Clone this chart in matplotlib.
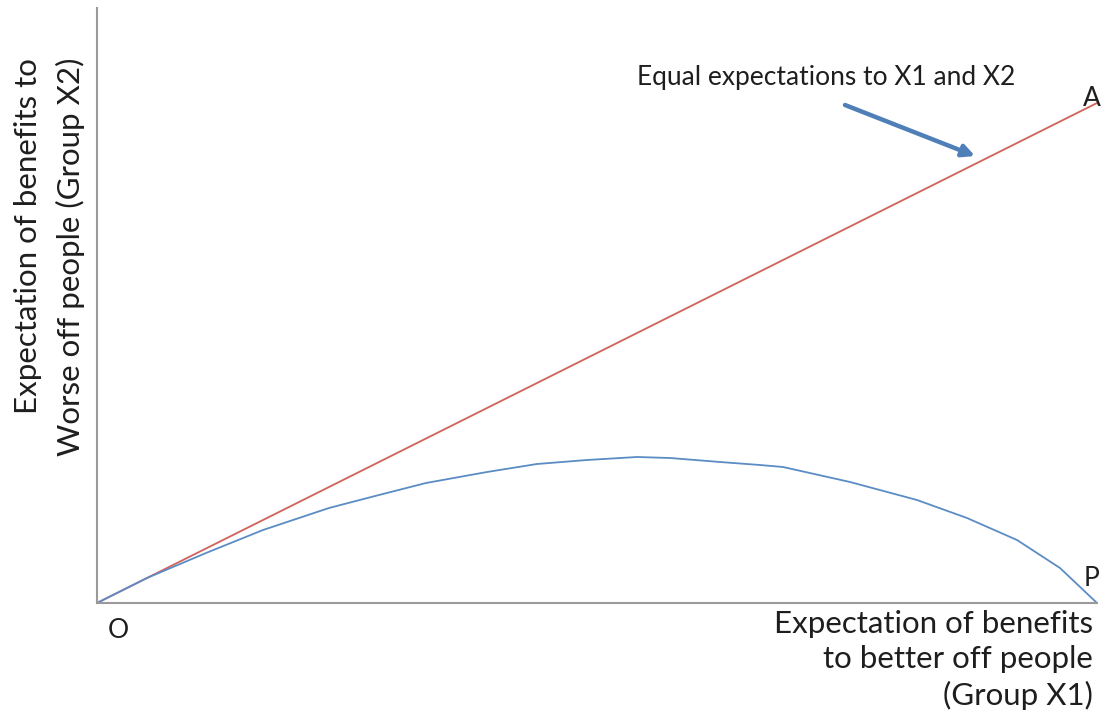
import matplotlib.pyplot as plt
import numpy as np

plt.rcParams['font.family'] = ['Lato', 'DejaVu Sans']

# equal-expectation line O -> A
equal_x = [0, 100]
equal_y = [0, 50]

# possibility curve O -> P
curve_x = [0, 5, 10.9, 16.6, 23.2, 28.2, 32.9, 39.0, 44.0, 49.0, 54.0, 57.3,
           62.3, 66.3, 68.6, 75.3, 82.0, 87.0, 92.0, 96.3, 100]
curve_y = [0, 2.5, 5.0, 7.3, 9.5, 10.8, 12.0, 13.1, 13.9, 14.3, 14.6, 14.5,
           14.1, 13.8, 13.6, 12.1, 10.3, 8.5, 6.3, 3.5, 0]

fig = plt.figure(figsize=(11.09, 7.21), dpi=100)
ax = fig.add_axes([97/1109, 118/721, 1000/1109, 595/721])

ax.plot(equal_x, equal_y, color='#d0625a', lw=1.3)
ax.plot(curve_x, curve_y, color='#5b8cc4', lw=1.3)

ax.set_xlim(0, 100)
ax.set_ylim(0, 59.5)
ax.set_xticks([])
ax.set_yticks([])
for s in ['top', 'right']:
    ax.spines[s].set_visible(False)
for s in ['left', 'bottom']:
    ax.spines[s].set_color('#9a9a9a')
    ax.spines[s].set_linewidth(1.5)

fs = 19
lfs = 22.5
txt = '#1e1e1e'
ax.text(2.1, -2.7, 'O', fontsize=fs, ha='center', va='center', color=txt)
ax.text(99.5, 2.5, 'P', fontsize=fs, ha='center', va='center', color=txt)
ax.text(99.5, 50.5, 'A', fontsize=fs, ha='center', va='center', color=txt)

ax.text(54, 52.5, 'Equal expectations to X1 and X2', fontsize=fs,
        ha='left', va='center', color=txt)
ax.annotate('', xy=(87.8, 44.7), xytext=(74.8, 49.8),
            arrowprops=dict(arrowstyle='-|>', color='#4f7fb8', lw=3.2,
                            mutation_scale=18, shrinkA=0, shrinkB=0),
            annotation_clip=False)

fig.text(1093/1109, 1 - 610/721,
         'Expectation of benefits\nto better off people\n(Group X1)',
         fontsize=lfs, ha='right', va='top', multialignment='right',
         linespacing=1.32, color=txt)

fig.text(28/1109, 1 - 58/721, 'Expectation of benefits to', fontsize=lfs,
         rotation=90, ha='center', va='top', color=txt)
fig.text(70/1109, 1 - 58/721, 'Worse off people (Group X2)', fontsize=lfs,
         rotation=90, ha='center', va='top', color=txt)

plt.savefig('out.png', dpi=100)
